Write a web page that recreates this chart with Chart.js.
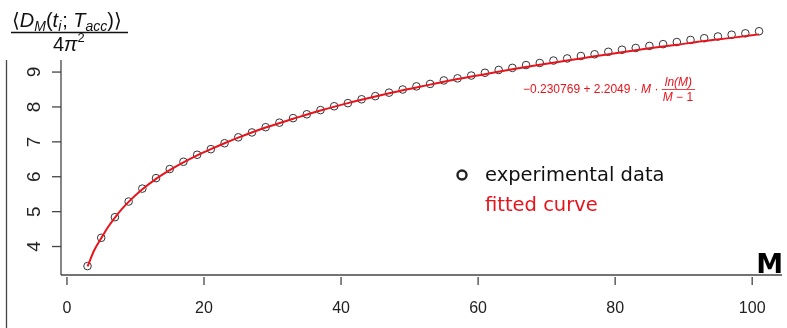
<!DOCTYPE html>
<html>
<head>
<meta charset="utf-8">
<script src="https://cdn.jsdelivr.net/npm/chart.js@4/dist/chart.umd.min.js"></script>
<style>
  html, body { margin: 0; padding: 0; background: #fff; }
  canvas { display: block; }
</style>
</head>
<body>
<canvas id="grafico" width="787" height="328"></canvas>
<script>
// valores
const valoresM = [3, 5, 7, 9, 11, 13, 15, 17, 19, 21, 23, 25, 27, 29, 31, 33, 35, 37, 39, 41,
  43, 45, 47, 49, 51, 53, 55, 57, 59, 61, 63, 65, 67, 69, 71, 73, 75, 77, 79, 81,
  83, 85, 87, 89, 91, 93, 95, 97, 99, 101];
const dadosExperimentais = [3.44, 4.25, 4.84, 5.29, 5.66, 5.96, 6.22, 6.43, 6.63, 6.79,
  6.96, 7.13, 7.27, 7.42, 7.55, 7.68, 7.79, 7.91, 8.02, 8.11,
  8.22, 8.31, 8.41, 8.50, 8.59, 8.66, 8.76, 8.82, 8.90, 8.98,
  9.06, 9.12, 9.20, 9.26, 9.33, 9.39, 9.46, 9.51, 9.58, 9.64,
  9.69, 9.75, 9.80, 9.86, 9.92, 9.97, 10.02, 10.07, 10.11, 10.17];
const curvaM = [3, 4, 5, 6, 7, 8, 9, 11, 13, 15, 17, 19, 21, 23, 25, 29, 33, 37, 41, 45,
  49, 53, 57, 61, 65, 69, 73, 77, 81, 85, 89, 93, 97, 101];
const curvaValores = [3.43, 3.90, 4.24, 4.56, 4.83, 5.07, 5.28, 5.64, 5.94, 6.19, 6.41, 6.61, 6.79, 6.96, 7.12, 7.41, 7.66, 7.90, 8.11, 8.30,
  8.48, 8.64, 8.80, 8.94, 9.08, 9.21, 9.33, 9.45, 9.57, 9.68, 9.78, 9.89, 9.98, 10.08];
const ticksX = [0, 20, 40, 60, 80, 100];
const ticksY = [4, 5, 6, 7, 8, 9];
const legendas = ["experimental data", "fitted curve"];

const VERMELHO = "#e8141c";
const ESCURO = "#333";

function desenharPedacos(ctx, x, y, pedacos) {
  pedacos.forEach(p => {
    ctx.font = p.font;
    ctx.fillText(p.t, x, y + (p.dy || 0));
    x += ctx.measureText(p.t).width + (p.gap || 0);
  });
  return x;
}

const eixosR = {
  id: "eixosR",
  afterDraw(chart) {
    const ctx = chart.ctx;
    const sx = chart.scales.x;
    const sy = chart.scales.y;
    const area = chart.chartArea;
    ctx.save();
    ctx.strokeStyle = "#444";
    ctx.fillStyle = "#222";
    ctx.lineWidth = 1.3;

    // linha da esquerda
    ctx.beginPath();
    ctx.moveTo(6.5, 60);
    ctx.lineTo(6.5, 328);
    ctx.stroke();

    // eixo y
    ctx.beginPath();
    ctx.moveTo(area.left, 60);
    ctx.lineTo(area.left, area.bottom);
    ctx.stroke();
    ctx.font = "19px 'Liberation Sans', Arial, sans-serif";
    ctx.textAlign = "center";
    ctx.textBaseline = "middle";
    ticksY.forEach(v => {
      const py = sy.getPixelForValue(v);
      ctx.beginPath();
      ctx.moveTo(area.left - 9, py);
      ctx.lineTo(area.left, py);
      ctx.stroke();
      ctx.save();
      ctx.translate(34, py);
      ctx.rotate(-Math.PI / 2);
      ctx.fillText(String(v), 0, 1);
      ctx.restore();
    });

    // eixo x
    ctx.beginPath();
    ctx.moveTo(area.left, area.bottom);
    ctx.lineTo(area.right, area.bottom);
    ctx.stroke();
    ctx.font = "16px 'Liberation Sans', Arial, sans-serif";
    ctx.textBaseline = "alphabetic";
    ticksX.forEach(v => {
      const px = sx.getPixelForValue(v);
      ctx.beginPath();
      ctx.moveTo(px, area.bottom + 2);
      ctx.lineTo(px, area.bottom + 10);
      ctx.stroke();
      ctx.fillText(String(v), px, 313);
    });

    // M
    ctx.fillStyle = "#000";
    ctx.textAlign = "right";
    ctx.font = "bold 27px 'DejaVu Sans', sans-serif";
    ctx.fillText("M", 783, 273);

    // titulo do eixo y
    ctx.fillStyle = "#111";
    ctx.textAlign = "left";
    const n = "20px 'Liberation Sans', 'DejaVu Sans', sans-serif";
    const it = "italic 20px 'Liberation Sans', 'DejaVu Sans', sans-serif";
    const sub = "italic 14px 'Liberation Sans', 'DejaVu Sans', sans-serif";
    desenharPedacos(ctx, 12, 27, [
      { t: "\u27E8", font: "20px 'DejaVu Sans', sans-serif" },
      { t: "D", font: it }, { t: "M", font: sub, dy: 4 },
      { t: "(", font: n }, { t: "t", font: it }, { t: "i", font: sub, dy: 4, gap: 1 },
      { t: "; ", font: n }, { t: "T", font: it }, { t: "acc", font: sub, dy: 4 },
      { t: ")", font: n },
      { t: "\u27E9", font: "20px 'DejaVu Sans', sans-serif" }
    ]);
    ctx.strokeStyle = "#111";
    ctx.lineWidth = 1.4;
    ctx.beginPath();
    ctx.moveTo(11, 32.5);
    ctx.lineTo(128, 32.5);
    ctx.stroke();
    desenharPedacos(ctx, 53, 51, [
      { t: "4", font: n }, { t: "\u03C0", font: it }, { t: "2", font: "13px 'Liberation Sans', sans-serif", dy: -9 }
    ]);

    // formula em vermelho
    ctx.fillStyle = VERMELHO;
    const fn = "12px 'Liberation Sans', sans-serif";
    const fi = "italic 12px 'Liberation Sans', sans-serif";
    let xf = desenharPedacos(ctx, 523, 93, [
      { t: "\u22120.230769 + 2.2049 \u00B7 ", font: fn }, { t: "M", font: fi }, { t: " \u00B7 ", font: fn }
    ]);
    ctx.font = fi;
    const wNum = ctx.measureText("ln(M)").width;
    ctx.font = fn;
    const wDen = ctx.measureText("M \u2212 1").width + 1;
    const wFr = Math.max(wNum, wDen) + 2;
    desenharPedacos(ctx, xf + (wFr - wNum) / 2, 86, [{ t: "ln(M)", font: fi }]);
    desenharPedacos(ctx, xf + (wFr - wDen) / 2, 101, [{ t: "M", font: fi }, { t: " \u2212 1", font: fn }]);
    ctx.strokeStyle = VERMELHO;
    ctx.lineWidth = 0.8;
    ctx.beginPath();
    ctx.moveTo(xf, 89.5);
    ctx.lineTo(xf + wFr, 89.5);
    ctx.stroke();

    // legenda
    ctx.strokeStyle = "#222";
    ctx.lineWidth = 2.4;
    ctx.beginPath();
    ctx.arc(462, 175, 4.5, 0, Math.PI * 2);
    ctx.stroke();
    ctx.font = "19.5px 'DejaVu Sans', sans-serif";
    ctx.fillStyle = "#111";
    ctx.fillText(legendas[0], 485, 181);
    ctx.fillStyle = VERMELHO;
    ctx.fillText(legendas[1], 485, 211);
    ctx.restore();
  }
};

const grafico = new Chart(document.getElementById("grafico").getContext("2d"), {
  type: "scatter",
  data: {
    datasets: [
      {
        label: legendas[1],
        data: curvaM.map((m, i) => ({ x: m, y: curvaValores[i] })),
        showLine: true,
        borderColor: VERMELHO,
        borderWidth: 2,
        pointRadius: 0,
        cubicInterpolationMode: "monotone",
        order: 0
      },
      {
        label: legendas[0],
        data: valoresM.map((m, i) => ({ x: m, y: dadosExperimentais[i] })),
        showLine: false,
        pointStyle: "circle",
        pointRadius: 3.8,
        pointBorderWidth: 1,
        borderColor: ESCURO,
        backgroundColor: "rgba(0,0,0,0)",
        order: 1
      }
    ]
  },
  options: {
    responsive: false,
    animation: false,
    layout: { padding: { left: 61, right: 0, top: 0, bottom: 53 } },
    plugins: { legend: { display: false }, tooltip: { enabled: false } },
    scales: {
      x: { type: "linear", min: -0.87, max: 104.35, display: false },
      y: { type: "linear", min: 3.184, max: 10.922, display: false }
    }
  },
  plugins: [eixosR]
});
</script>
</body>
</html>
